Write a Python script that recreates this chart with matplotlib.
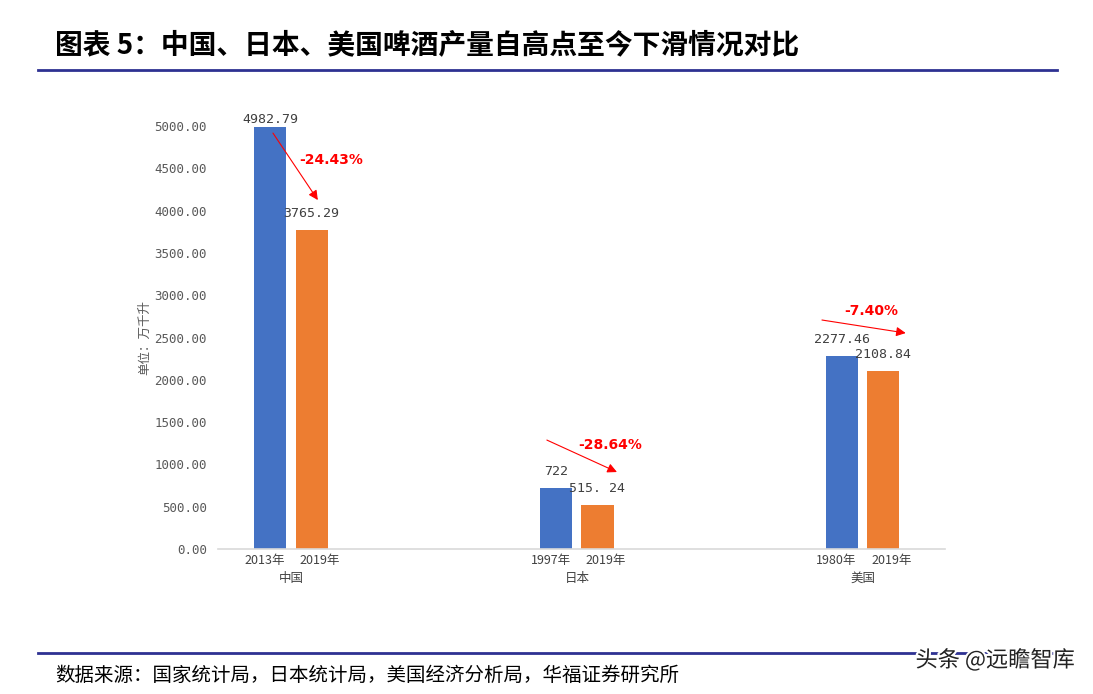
import matplotlib.pyplot as plt
import matplotlib.patheffects as pe
import numpy as np

plt.rcParams['font.family'] = ['Noto Sans CJK SC', 'DejaVu Sans']

countries = ['中国', '日本', '美国']
peak_years = ['2013年', '1997年', '1980年']
now_years = ['2019年', '2019年', '2019年']
peak_vals = [4982.79, 722, 2277.46]
now_vals = [3765.29, 515.24, 2108.84]
peak_text = ['4982.79', '722', '2277.46']
now_text = ['3765.29', '515. 24', '2108.84']
drops = ['-24.43%', '-28.64%', '-7.40%']

blue = '#4472C4'
orange = '#ED7D31'
grey = '#595959'

fig = plt.figure(figsize=(10.93, 6.94), dpi=100)
ax = fig.add_axes([0.1995, 0.2089, 0.665, 0.6095])

x = np.arange(len(countries))
off = 0.072
w = 0.112
ax.bar(x - off, peak_vals, w, color=blue)
ax.bar(x + off, now_vals, w, color=orange)

ax.set_xlim(-0.255, 2.287)
ax.set_ylim(0, 5000)
ax.set_yticks(np.arange(0, 5001, 500))
ax.set_yticklabels(['%.2f' % v for v in np.arange(0, 5001, 500)],
                   family='DejaVu Sans Mono', fontsize=9, color=grey)
ax.tick_params(axis='y', length=0, pad=8)
ax.set_xticks([])
for s in ['top', 'right', 'left']:
    ax.spines[s].set_visible(False)
ax.spines['bottom'].set_color('#d9d9d9')
ax.spines['bottom'].set_linewidth(1.2)

ax.set_ylabel('单位：万千升', fontsize=9, color=grey, labelpad=2)

# value labels
for i in range(len(countries)):
    pad = 1 if peak_vals[i] > 4800 else 10
    ax.annotate(peak_text[i], (x[i] - off, peak_vals[i]), xytext=(0, pad),
                textcoords='offset pixels', ha='center', va='bottom',
                family='DejaVu Sans Mono', fontsize=9.5, color='#404040')
    ax.annotate(now_text[i], (x[i] + off, now_vals[i]), xytext=(0, 10),
                textcoords='offset pixels', ha='center', va='bottom',
                family='DejaVu Sans Mono', fontsize=9.5, color='#404040')

# year and country labels under the axis
for i in range(len(countries)):
    ax.annotate(peak_years[i], (x[i] - off - 0.02, 0), xytext=(0, -5),
                textcoords='offset pixels', ha='center', va='top',
                fontsize=9, color='#404040', annotation_clip=False)
    ax.annotate(now_years[i], (x[i] + off + 0.03, 0), xytext=(0, -5),
                textcoords='offset pixels', ha='center', va='top',
                fontsize=9, color='#404040', annotation_clip=False)
    ax.annotate(countries[i], (x[i], 0), xytext=(0, -23),
                textcoords='offset pixels', ha='center', va='top',
                fontsize=9, color='#404040', annotation_clip=False)

# decline arrows
arrow_from = [(-0.063, 4917), (0.895, 1288), (1.857, 2707)]
arrow_to = [(0.094, 4125), (1.140, 910), (2.150, 2553)]
label_at = [(0.142, 4600), (1.115, 1229), (2.031, 2813)]
for i in range(len(countries)):
    ax.annotate('', xy=arrow_to[i], xytext=arrow_from[i],
                arrowprops=dict(arrowstyle='-|>', color='#FF0000', lw=0.8,
                                mutation_scale=14, shrinkA=0, shrinkB=0),
                annotation_clip=False)
    ax.text(label_at[i][0], label_at[i][1], drops[i], color='#FF0000',
            fontsize=10, fontweight='bold', ha='center', va='center',
            family=['DejaVu Sans'])

# header, rules and footer
fig.text(55 / 1093, 1 - 45 / 694, '图表 5：中国、日本、美国啤酒产量自高点至今下滑情况对比',
         fontsize=20, fontweight='bold', ha='left', va='center', color='black')
fig.add_artist(plt.Line2D([38 / 1093, 1057 / 1093], [1 - 70 / 694, 1 - 70 / 694],
                          color='#2E3192', lw=2))
fig.add_artist(plt.Line2D([38 / 1093, 1057 / 1093], [1 - 653 / 694, 1 - 653 / 694],
                          color='#2E3192', lw=2))
fig.text(55 / 1093, 1 - 675 / 694, '数据来源：国家统计局，日本统计局，美国经济分析局，华福证券研究所',
         fontsize=14, ha='left', va='center', color='black')

fig.text(1075 / 1093, 1 - 660 / 694, '头条 @远瞻智库', fontsize=16, ha='right',
         va='center', color='#222222',
         path_effects=[pe.withStroke(linewidth=3, foreground='white')])

fig.savefig('out.png', dpi=100)
